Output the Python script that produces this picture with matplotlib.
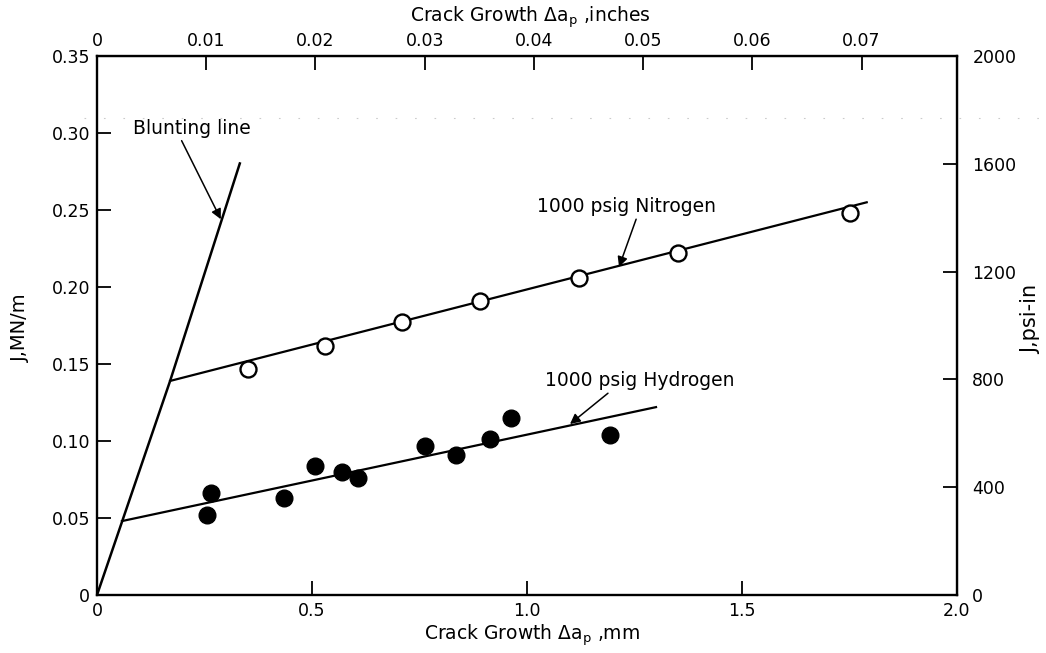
import matplotlib
matplotlib.use("Agg")
import matplotlib.pyplot as plt
from matplotlib.lines import Line2D

# --- data -------------------------------------------------------------
# 1000 psig nitrogen (open circles): crack growth (mm), J (MN/m)
n2_da = [0.35, 0.53, 0.71, 0.89, 1.12, 1.35, 1.75]
n2_j = [0.147, 0.162, 0.177, 0.191, 0.206, 0.222, 0.248]

# 1000 psig hydrogen (filled circles)
h2_da = [0.256, 0.265, 0.434, 0.507, 0.570, 0.608, 0.763, 0.836, 0.913, 0.963, 1.193]
h2_j = [0.052, 0.066, 0.063, 0.084, 0.080, 0.076, 0.097, 0.091, 0.101, 0.115, 0.104]

# fitted lines (start / end points)
blunt_da = [0.0, 0.170, 0.333]
blunt_j = [0.0, 0.139, 0.281]
n2_fit_da = [0.170, 1.79]
n2_fit_j = [0.139, 0.255]
h2_fit_da = [0.058, 1.30]
h2_fit_j = [0.048, 0.122]

# axis ticks
x_mm_ticks = [0, 0.5, 1.0, 1.5, 2.0]
x_mm_labels = ["0", "0.5", "1.0", "1.5", "2.0"]
x_in_ticks = [0, 0.01, 0.02, 0.03, 0.04, 0.05, 0.06, 0.07]
x_in_labels = ["0", "0.01", "0.02", "0.03", "0.04", "0.05", "0.06", "0.07"]
y_si_ticks = [0, 0.05, 0.10, 0.15, 0.20, 0.25, 0.30, 0.35]
y_si_labels = ["0", "0.05", "0.10", "0.15", "0.20", "0.25", "0.30", "0.35"]
y_us_ticks = [0, 400, 800, 1200, 1600, 2000]
y_us_labels = ["0", "400", "800", "1200", "1600", "2000"]

MM_PER_IN = 25.4
MNM_PER_PSIIN = 0.35 / 2000.0

plt.rcParams["font.family"] = ["DejaVu Sans"]
plt.rcParams["mathtext.fontset"] = "dejavusans"

W, H = 1046, 653
fig = plt.figure(figsize=(W / 100, H / 100), dpi=100)
ax = fig.add_axes([97 / W, 1 - 595 / H, (957 - 97) / W, (595 - 56) / H])

ink = "black"
ax.plot(blunt_da, blunt_j, color=ink, lw=1.8, solid_capstyle="butt")
ax.plot(n2_fit_da, n2_fit_j, color=ink, lw=1.6)
ax.plot(h2_fit_da, h2_fit_j, color=ink, lw=1.6)

ax.plot(n2_da, n2_j, ls="none", marker="o", ms=11.5, mfc="white", mec=ink, mew=1.7, zorder=5)
ax.plot(h2_da, h2_j, ls="none", marker="o", ms=12, mfc=ink, mec=ink, zorder=5)

ax.set_xlim(0, 2.0)
ax.set_ylim(0, 0.35)

for sp in ax.spines.values():
    sp.set_linewidth(1.7)

tick_style = dict(direction="in", length=10, width=1.3, labelsize=12.5)
ax.set_xticks(x_mm_ticks, x_mm_labels)
ax.set_yticks(y_si_ticks, y_si_labels)
ax.tick_params(axis="both", **tick_style)
ax.tick_params(axis="x", pad=5)
ax.tick_params(axis="y", pad=5)

# top axis in inches
top = ax.secondary_xaxis("top", functions=(lambda v: v / MM_PER_IN, lambda v: v * MM_PER_IN))
top.set_xticks(x_in_ticks, x_in_labels)
top.tick_params(pad=4, **tick_style)

# right axis in psi-in
right = ax.secondary_yaxis("right", functions=(lambda v: v / MNM_PER_PSIIN, lambda v: v * MNM_PER_PSIIN))
right.set_yticks(y_us_ticks, y_us_labels)
right.tick_params(pad=11, **tick_style)

# axis titles
fig.text(20 / W, 1 - 328 / H, "J,MN/m", rotation=90, ha="center", va="center", fontsize=14)
fig.text(532 / W, 1 - 635 / H, r"Crack Growth $\Delta\mathrm{a}_\mathrm{p}$ ,mm",
         ha="center", va="center", fontsize=13.5)
fig.text(530 / W, 1 - 17 / H, r"Crack Growth $\Delta\mathrm{a}_\mathrm{p}$ ,inches",
         ha="center", va="center", fontsize=13.5)
fig.text(1031 / W, 1 - 319 / H, "J,psi-in", rotation=90,
         ha="center", va="center", fontsize=15)

# curve annotations
arrow = dict(arrowstyle="-|>", color=ink, lw=1.1, mutation_scale=15, shrinkA=0, shrinkB=0)
ax.annotate("Blunting line", xy=(0.288, 0.244), xytext=(0.084, 0.303),
            fontsize=13.5, ha="left", va="center",
            arrowprops=dict(arrow, relpos=(0.40, 0.0)))
ax.annotate("1000 psig Nitrogen", xy=(1.214, 0.213), xytext=(1.023, 0.252),
            fontsize=13.5, ha="left", va="center",
            arrowprops=dict(arrow, relpos=(0.56, 0.0)))
ax.annotate("1000 psig Hydrogen", xy=(1.100, 0.111), xytext=(1.042, 0.139),
            fontsize=13.5, ha="left", va="center",
            arrowprops=dict(arrow, relpos=(0.35, 0.0)))

# faint dotted trace running across the sheet
fig.add_artist(Line2D([0.08, 0.995], [1 - 118 / H, 1 - 118 / H],
                      transform=fig.transFigure, color="0.6", lw=0.8,
                      ls=(0, (1.5, 16)), alpha=0.5))

fig.savefig("out.png", dpi=100, facecolor="white")
